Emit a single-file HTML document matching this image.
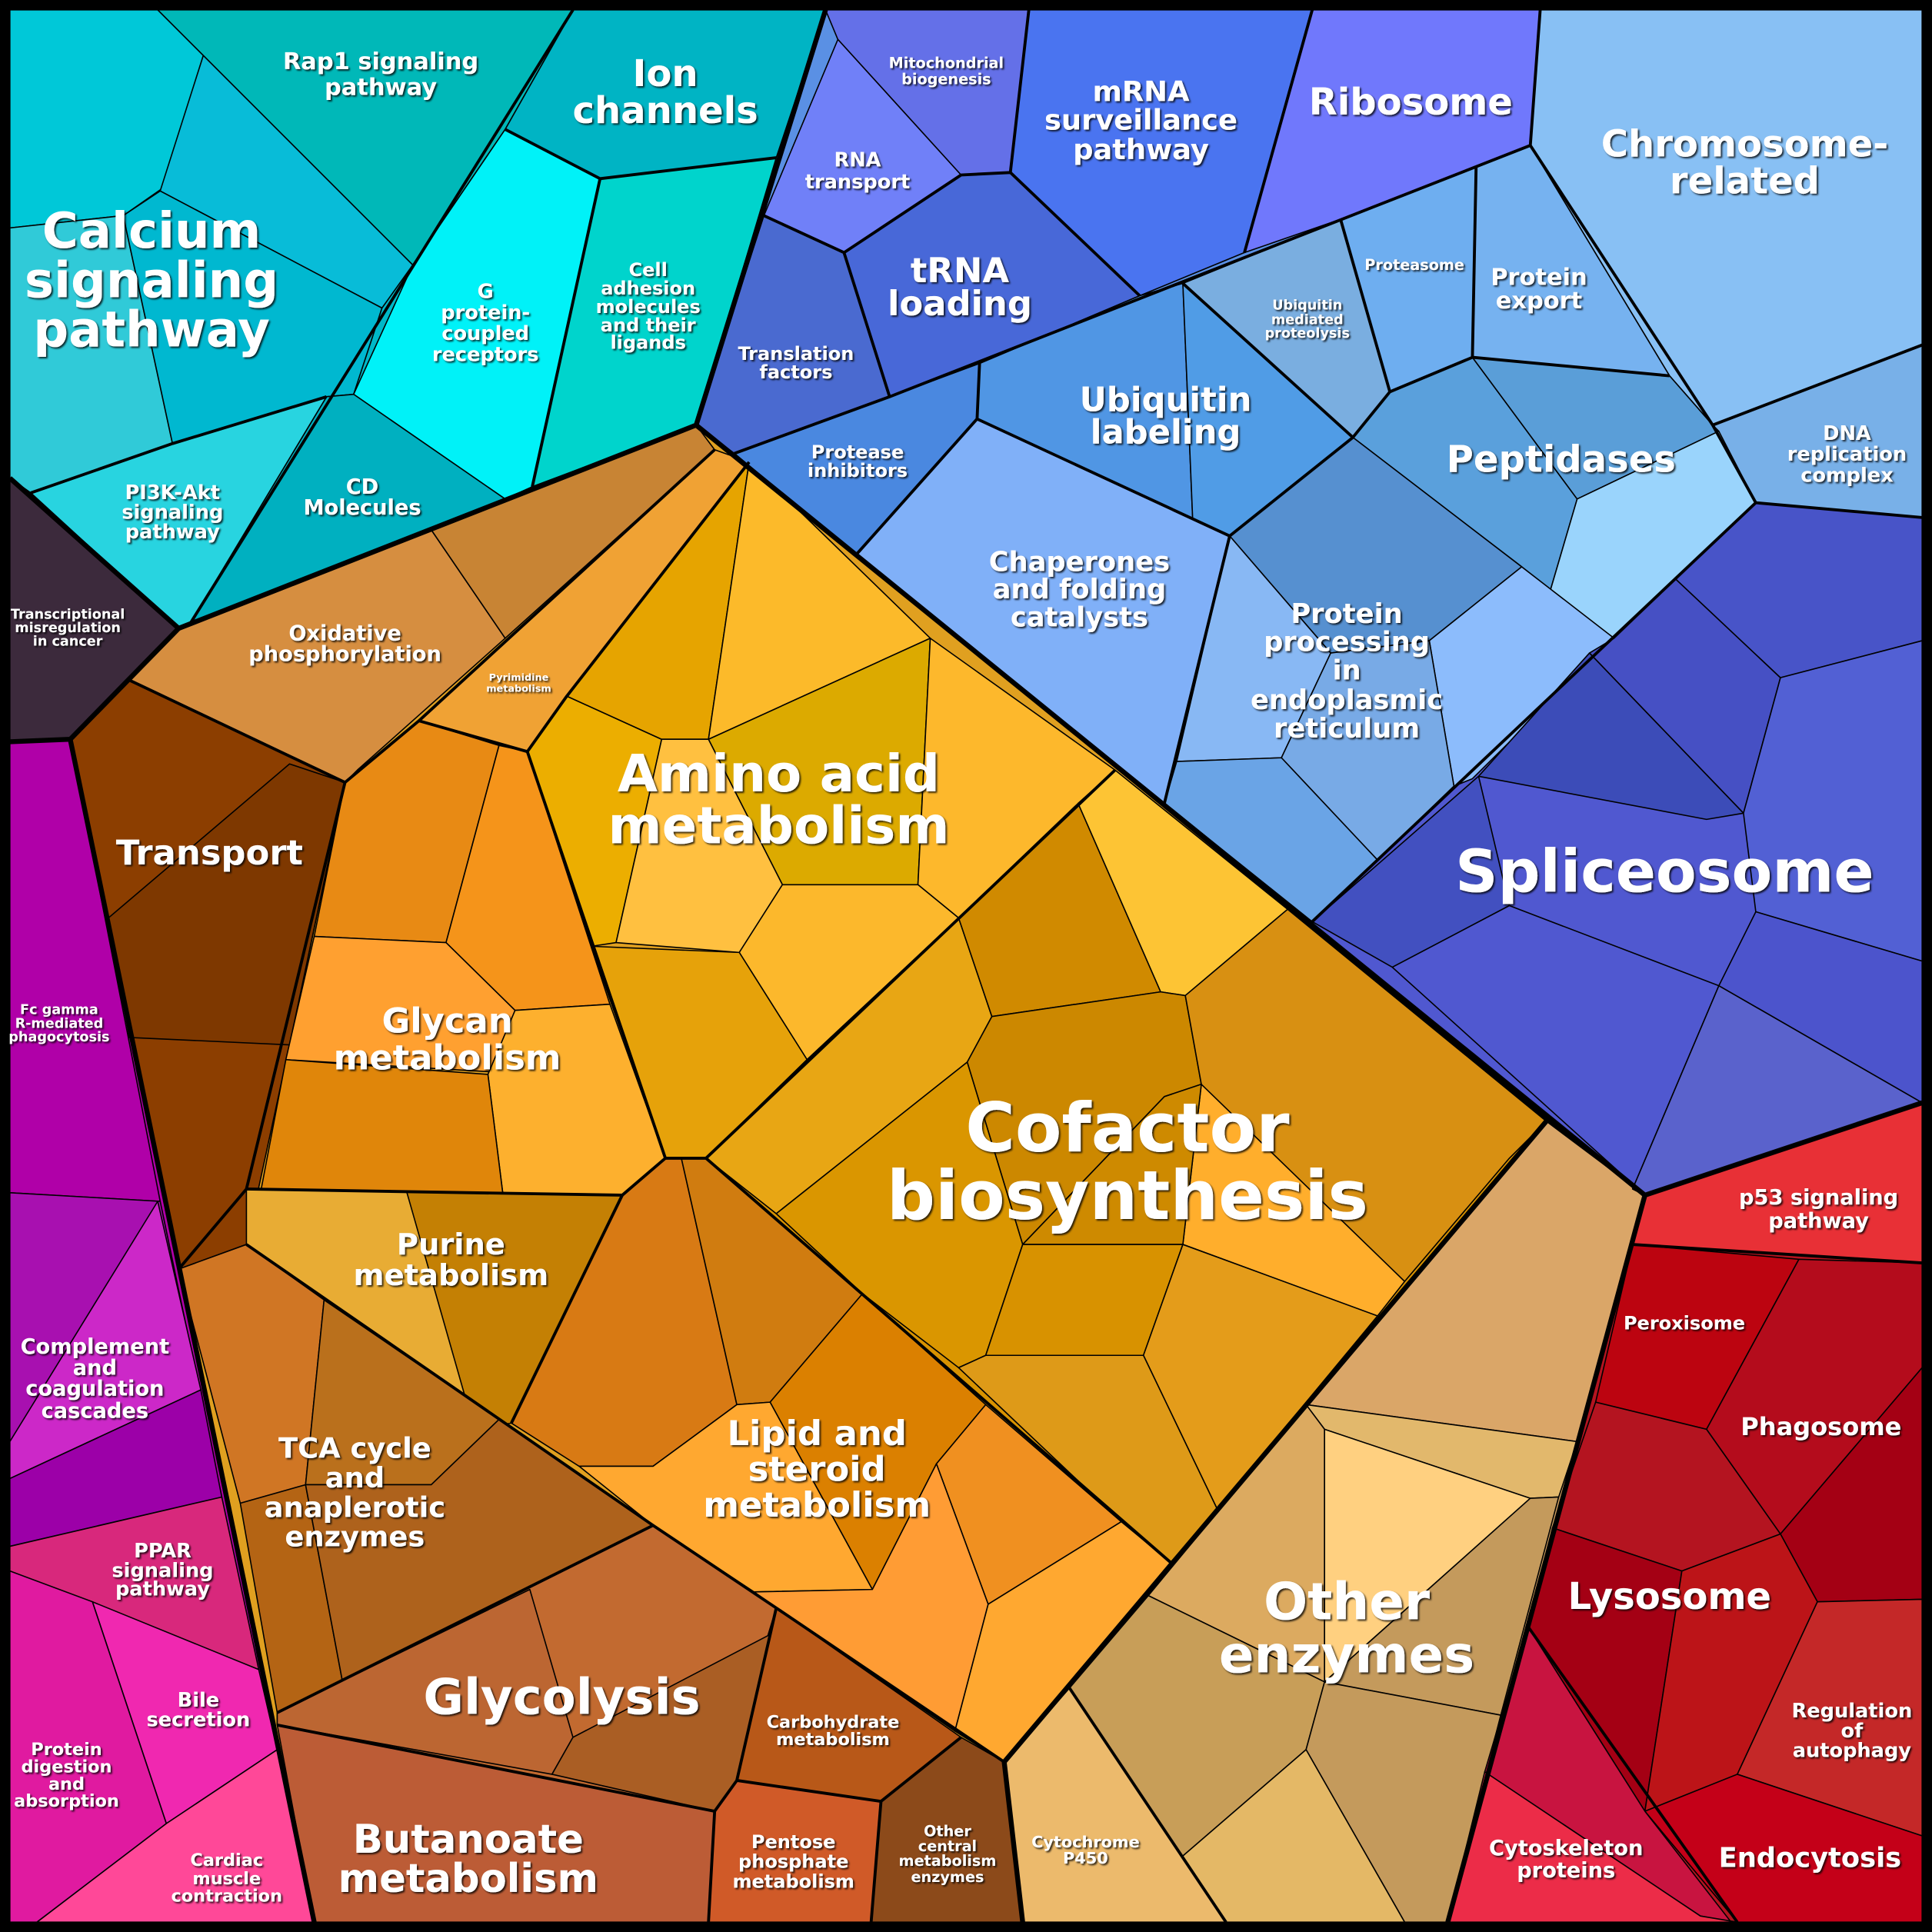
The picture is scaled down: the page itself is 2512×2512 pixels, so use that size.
<!DOCTYPE html>
<html><head><meta charset="utf-8"><style>
html,body{margin:0;padding:0;background:#000;}
svg{display:block;}
text{font-family:"DejaVu Sans","Liberation Sans",sans-serif;font-weight:bold;fill:#fff;text-anchor:middle;dominant-baseline:central;}
.c polygon{stroke:#000;stroke-width:1;stroke-linejoin:round;}
.base polygon{stroke:none;}
.b{fill:none;stroke:#000;stroke-width:4;stroke-linejoin:round;}
.m{fill:none;stroke:#000;stroke-width:2.4;stroke-linejoin:round;}
</style></head><body>
<svg width="2512" height="2512" viewBox="0 0 1568 1568" xmlns="http://www.w3.org/2000/svg">
<defs><filter id="sh" x="-5%" y="-5%" width="110%" height="110%"><feDropShadow dx="1.2" dy="1.2" stdDeviation="0.6" flood-color="#000" flood-opacity="0.8"/></filter></defs>
<rect width="1568" height="1568" fill="#000"/>
<g class="base">
<polygon fill="#00b8c8" points="8,8 670,8 565,345 145,510 8,388"/>
<polygon fill="#5a90e4" points="670,8 1560,8 1560,895 1335,970 565,345"/>
<polygon fill="#5058d0" points="1310,518 1425,408 1560,420 1560,895 1335,970 1065,748"/>
<polygon fill="#e0a020" points="145,510 565,345 1255,910 815,1430 830,1560 255,1560 57,600 105,552"/>
<polygon fill="#8c3e00" points="57,600 105,552 280,635 200,965 145,1030"/>
<polygon fill="#d89200" points="573,940 905,625 1255,910 950,1268"/>
<polygon fill="#b000a8" points="8,602 57,600 255,1560 8,1560"/>
<polygon fill="#b41420" points="1335,970 1560,895 1560,1560 1175,1560"/>
<polygon fill="#d0a060" points="815,1430 1255,910 1335,970 1175,1560 830,1560"/>
</g>
<g class="c">
<polygon fill="#00c8d8" points="8,8 128,8 165,45 133,152 100,175 8,185"/>
<polygon fill="#30cad8" points="8,185 100,175 140,360 25,400 8,388"/>
<polygon fill="#08bcd8" points="165,45 335,215 310,250 130,155"/>
<polygon fill="#00b8d0" points="130,155 310,250 287,320 265,322 140,360 100,175"/>
<polygon fill="#00b8b8" points="128,8 465,8 410,105 335,215 165,45"/>
<polygon fill="#00b4c4" points="465,8 670,8 630,128 487,145 410,105"/>
<polygon fill="#00f2f8" points="410,105 487,145 432,395 410,405 287,320 335,215"/>
<polygon fill="#00d4cc" points="487,145 630,128 565,345 432,395"/>
<polygon fill="#00b0c0" points="287,320 410,405 155,505 265,322"/>
<polygon fill="#28d4e0" points="25,400 140,360 265,322 155,505 145,510"/>
<polygon fill="#3c2a3c" points="8,388 145,510 105,552 57,600 8,602"/>
<polygon fill="#b000a8" points="8,602 57,600 130,975 8,968"/>
<polygon fill="#a810b0" points="8,968 130,975 180,1215 8,1255"/>
<polygon fill="#cc28c8" points="128,975 163,1128 8,1200 8,1170"/>
<polygon fill="#9c00a8" points="163,1128 180,1215 8,1255 8,1200"/>
<polygon fill="#d8287c" points="8,1255 180,1215 210,1355 8,1275"/>
<polygon fill="#f028b0" points="75,1300 210,1355 225,1420 135,1480"/>
<polygon fill="#e01aa0" points="8,1275 75,1300 135,1480 30,1560 8,1560"/>
<polygon fill="#ff4898" points="135,1480 225,1420 255,1560 30,1560"/>
<polygon fill="#d68e40" points="105,552 145,510 350,430 410,518 290,625 280,635"/>
<polygon fill="#c88434" points="350,430 565,345 580,365 410,518"/>
<polygon fill="#f0a234" points="340,585 580,365 608,375 460,565 428,610"/>
<polygon fill="#8c3e00" points="57,600 105,552 280,635 235,848 200,1010 145,1030"/>
<polygon fill="#7e3800" points="88,745 235,620 280,635 235,848 105,842"/>
<polygon fill="#e88a14" points="280,635 340,585 405,605 362,765 255,760"/>
<polygon fill="#f5941a" points="405,605 428,610 495,815 418,820 362,765"/>
<polygon fill="#ffa030" points="255,760 362,765 418,820 400,870 232,860"/>
<polygon fill="#fdb02e" points="418,820 495,815 540,940 505,970 408,968 396,872"/>
<polygon fill="#e0860a" points="232,860 396,872 408,968 212,965"/>
<polygon fill="#ecae00" points="460,565 537,600 500,765 480,768 428,610"/>
<polygon fill="#e6a400" points="460,565 608,375 575,600 537,600"/>
<polygon fill="#fcba2a" points="608,375 755,518 575,600"/>
<polygon fill="#dcaa00" points="575,600 755,518 745,718 635,718"/>
<polygon fill="#ffc040" points="537,600 575,600 635,718 600,773 500,765"/>
<polygon fill="#fdb82c" points="755,518 905,625 778,745 745,718"/>
<polygon fill="#fcb82c" points="635,718 745,718 778,745 655,860 600,773"/>
<polygon fill="#e6a20a" points="480,768 600,773 655,860 573,940 540,940"/>
<polygon fill="#e8a614" points="655,860 778,745 805,825 785,862 630,985 573,940"/>
<polygon fill="#d08a00" points="778,745 875,652 942,805 805,825"/>
<polygon fill="#fdc434" points="875,652 905,625 1045,738 962,808 942,805"/>
<polygon fill="#cc8800" points="805,825 942,805 962,808 975,880 945,890 830,1010 785,862"/>
<polygon fill="#d89012" points="962,808 1045,738 1255,910 1225,940 1140,1040 960,1010 975,880"/>
<polygon fill="#ffae2c" points="975,880 1140,1040 1118,1068 960,1010"/>
<polygon fill="#ce8a00" points="945,890 975,880 960,1010 830,1010"/>
<polygon fill="#da9600" points="630,985 785,862 830,1010 800,1100 778,1110 700,1050"/>
<polygon fill="#d89200" points="830,1010 960,1010 928,1100 800,1100"/>
<polygon fill="#e49c1a" points="960,1010 1118,1068 988,1225 928,1100"/>
<polygon fill="#de9a18" points="778,1110 800,1100 928,1100 988,1225 950,1268 910,1235"/>
<polygon fill="#d87a14" points="505,970 540,940 553,940 598,1140 530,1190 470,1190 415,1155"/>
<polygon fill="#d07c10" points="553,940 573,940 700,1050 625,1138 598,1140"/>
<polygon fill="#db8000" points="700,1050 800,1140 760,1188 708,1290 625,1138"/>
<polygon fill="#ffa830" points="598,1140 625,1138 708,1290 612,1292 530,1238 470,1190 530,1190"/>
<polygon fill="#f09020" points="760,1188 800,1140 910,1235 802,1302"/>
<polygon fill="#ff9c34" points="612,1292 708,1290 760,1188 802,1302 775,1405 630,1305"/>
<polygon fill="#ffa830" points="802,1302 910,1235 950,1268 815,1430 775,1405"/>
<polygon fill="#e8ac34" points="200,965 330,967 380,1130 385,1160 200,1010"/>
<polygon fill="#c48004" points="330,967 505,970 415,1155 385,1160"/>
<polygon fill="#d07624" points="145,1030 200,1010 263,1055 248,1205 195,1220"/>
<polygon fill="#ba701c" points="263,1055 405,1152 350,1205 248,1205"/>
<polygon fill="#b46414" points="195,1220 248,1205 278,1365 225,1390"/>
<polygon fill="#ae621c" points="248,1205 350,1205 405,1152 530,1238 278,1365"/>
<polygon fill="#c26a30" points="225,1390 530,1238 630,1305 580,1470 225,1400"/>
<polygon fill="#bc6632" points="225,1390 430,1290 465,1410 448,1440 225,1400"/>
<polygon fill="#aa5e24" points="465,1410 628,1325 598,1445 580,1470 448,1440"/>
<polygon fill="#bc5c36" points="225,1400 580,1470 575,1560 255,1560"/>
<polygon fill="#b85818" points="630,1305 780,1410 715,1462 598,1445"/>
<polygon fill="#d05a28" points="598,1445 715,1462 707,1560 575,1560 580,1470"/>
<polygon fill="#8c4a1a" points="715,1462 780,1410 815,1430 830,1560 707,1560"/>
<polygon fill="#daa668" points="1255,910 1335,970 1280,1170 1060,1140"/>
<polygon fill="#e2b86c" points="1060,1140 1280,1170 1265,1215 1242,1216 1075,1160"/>
<polygon fill="#dcaa60" points="1060,1140 1075,1160 1075,1365 932,1295"/>
<polygon fill="#ffd080" points="1075,1160 1242,1216 1075,1365"/>
<polygon fill="#c49a5c" points="1242,1216 1265,1215 1218,1392 1075,1365"/>
<polygon fill="#c89e58" points="932,1295 1075,1365 1060,1420 958,1508 868,1370"/>
<polygon fill="#c49a5c" points="1075,1365 1218,1392 1175,1560 1140,1560 1060,1420"/>
<polygon fill="#e4b866" points="1060,1420 1140,1560 995,1560 958,1508"/>
<polygon fill="#ecba6c" points="815,1430 868,1370 995,1560 830,1560"/>
<polygon fill="#e83036" points="1335,970 1560,895 1560,1025 1325,1010"/>
<polygon fill="#bc0410" points="1325,1010 1460,1022 1385,1160 1295,1138"/>
<polygon fill="#b40c1c" points="1460,1022 1560,1025 1560,1110 1445,1245 1385,1160"/>
<polygon fill="#a40014" points="1560,1110 1560,1298 1475,1300 1445,1245"/>
<polygon fill="#b41420" points="1295,1138 1385,1160 1445,1245 1365,1275 1260,1240"/>
<polygon fill="#a40014" points="1260,1240 1365,1275 1335,1470 1240,1320"/>
<polygon fill="#bc1418" points="1365,1275 1445,1245 1475,1300 1410,1440 1335,1470"/>
<polygon fill="#c42828" points="1475,1300 1560,1298 1560,1490 1410,1440"/>
<polygon fill="#c40018" points="1335,1470 1410,1440 1560,1490 1560,1560 1410,1560"/>
<polygon fill="#c81440" points="1240,1320 1335,1470 1405,1560 1380,1555 1205,1438"/>
<polygon fill="#ec2c48" points="1205,1438 1380,1555 1410,1560 1175,1560"/>
<polygon fill="#6470e8" points="670,8 835,8 820,140 780,142 680,32"/>
<polygon fill="#7080f8" points="680,32 780,142 685,205 620,175"/>
<polygon fill="#4a74f0" points="835,8 1065,8 1010,205 925,240 820,140"/>
<polygon fill="#7078fc" points="1065,8 1250,8 1242,118 1088,178 1010,205"/>
<polygon fill="#4868d8" points="780,142 820,140 925,240 795,295 722,322 685,205"/>
<polygon fill="#4a6ad0" points="620,175 685,205 722,322 596,368 565,345"/>
<polygon fill="#4a88e0" points="596,368 722,322 795,295 793,340 695,450"/>
<polygon fill="#88c0f4" points="1250,8 1560,8 1560,280 1390,345 1355,305 1242,118"/>
<polygon fill="#78b0e8" points="1390,345 1560,280 1560,420 1425,408"/>
<polygon fill="#6eaef0" points="1088,178 1198,135 1195,290 1128,318"/>
<polygon fill="#76b2f0" points="1198,135 1242,118 1355,305 1195,290"/>
<polygon fill="#7aaee0" points="960,230 1088,178 1128,318 1098,355"/>
<polygon fill="#5096e4" points="795,295 925,240 960,230 968,422 793,340"/>
<polygon fill="#509ce6" points="960,230 1098,355 998,435 968,422"/>
<polygon fill="#5aa0dc" points="1098,355 1128,318 1195,290 1280,405 1258,480 1235,460"/>
<polygon fill="#5a9ed8" points="1195,290 1355,305 1390,345 1395,350 1280,405"/>
<polygon fill="#9ad4fc" points="1280,405 1395,350 1425,408 1310,518 1258,480"/>
<polygon fill="#5690d0" points="998,435 1098,355 1235,460 1160,520 1080,530"/>
<polygon fill="#80b0f8" points="695,450 793,340 998,435 945,652"/>
<polygon fill="#88b8f4" points="998,435 1080,530 1040,615 955,618"/>
<polygon fill="#8cbcfc" points="1160,520 1235,460 1310,518 1195,632 1180,638"/>
<polygon fill="#78aae6" points="1080,530 1160,520 1180,638 1118,698 1040,615"/>
<polygon fill="#6aa4e6" points="955,618 1040,615 1118,698 1065,748 945,652"/>
<polygon fill="#4650c4" points="1310,518 1360,470 1445,550 1415,660 1290,530"/>
<polygon fill="#4854c8" points="1360,470 1425,408 1560,420 1560,520 1445,550"/>
<polygon fill="#3c4cb8" points="1290,530 1415,660 1385,665 1200,630"/>
<polygon fill="#5260d4" points="1445,550 1560,520 1560,780 1425,740 1415,660"/>
<polygon fill="#4250c0" points="1200,630 1225,735 1130,785 1065,748"/>
<polygon fill="#5058d0" points="1130,785 1225,735 1395,800 1325,965 1335,970"/>
<polygon fill="#4c54cc" points="1425,740 1560,780 1560,895 1395,800"/>
<polygon fill="#5a62cc" points="1395,800 1560,895 1335,970 1325,965"/>
</g>
<polyline class="b" points="670,8 565,345 145,510 8,388"/>
<polyline class="b" points="145,510 57,600 8,602"/>
<polyline class="b" points="57,600 255,1560"/>
<polyline class="b" points="565,345 1335,970 1560,895"/>
<polyline class="b" points="1255,910 815,1430 830,1560"/>
<polyline class="b" points="1335,970 1175,1560"/>
<g class="m">
<polyline points="410,105 487,145 630,128"/>
<polyline points="465,8 155,505"/>
<polyline points="487,145 432,395"/>
<polyline points="140,360 25,400"/><polyline points="140,360 265,322"/>
<polyline points="620,175 685,205 722,322 596,368"/>
<polyline points="685,205 780,142 820,140 925,240"/>
<polyline points="835,8 820,140"/><polyline points="1065,8 1010,205"/>
<polyline points="1250,8 1242,118 1390,345 1425,408 1560,420"/>
<polyline points="1390,345 1560,280"/>
<polyline points="722,322 1242,118"/>
<polyline points="695,450 793,340 998,435 945,652"/><polyline points="793,340 795,295"/>
<polyline points="998,435 1098,355 1128,318 1195,290 1355,305"/>
<polyline points="1098,355 960,230"/><polyline points="1128,318 1088,178"/><polyline points="1195,290 1198,135"/>
<polyline points="1065,748 1425,408"/>
<polyline points="105,552 280,635 340,585 428,610 460,565 608,375"/>
<polyline points="280,635 200,965 145,1030"/>
<polyline points="340,585 580,365"/>
<polyline points="428,610 540,940 573,940 905,625"/>
<polyline points="200,965 505,970 540,940"/>
<polyline points="505,970 415,1155"/>
<polyline points="200,1010 530,1238 630,1305 815,1430"/>
<polyline points="573,940 950,1268"/>
<polyline points="225,1390 530,1238"/><polyline points="225,1400 580,1470 575,1560"/>
<polyline points="580,1470 598,1445 630,1305"/><polyline points="598,1445 715,1462 780,1410"/><polyline points="715,1462 707,1560"/>
<polyline points="868,1370 995,1560"/>
<polyline points="1325,1010 1560,1025"/>
<polyline points="1240,1320 1410,1560"/>
</g>
<rect x="4" y="4" width="1560" height="1560" fill="none" stroke="#000" stroke-width="8"/>
<g filter="url(#sh)">
<text font-size="40"><tspan x="123" y="188">Calcium</tspan><tspan x="123" y="228">signaling</tspan><tspan x="123" y="268">pathway</tspan></text>
<text font-size="19"><tspan x="309" y="50">Rap1 signaling</tspan><tspan x="309" y="71">pathway</tspan></text>
<text font-size="30"><tspan x="540" y="60">Ion</tspan><tspan x="540" y="90">channels</tspan></text>
<text font-size="16"><tspan x="394" y="237">G</tspan><tspan x="394" y="254">protein-</tspan><tspan x="394" y="271">coupled</tspan><tspan x="394" y="288">receptors</tspan></text>
<text font-size="15"><tspan x="526" y="219">Cell</tspan><tspan x="526" y="234">adhesion</tspan><tspan x="526" y="249">molecules</tspan><tspan x="526" y="264">and their</tspan><tspan x="526" y="278">ligands</tspan></text>
<text font-size="17"><tspan x="294" y="395">CD</tspan><tspan x="294" y="412">Molecules</tspan></text>
<text font-size="16"><tspan x="140" y="400">PI3K-Akt</tspan><tspan x="140" y="416">signaling</tspan><tspan x="140" y="432">pathway</tspan></text>
<text font-size="11"><tspan x="55" y="499">Transcriptional</tspan><tspan x="55" y="510">misregulation</tspan><tspan x="55" y="521">in cancer</tspan></text>
<text font-size="12"><tspan x="768" y="51">Mitochondrial</tspan><tspan x="768" y="64">biogenesis</tspan></text>
<text font-size="16"><tspan x="696" y="130">RNA</tspan><tspan x="696" y="148">transport</tspan></text>
<text font-size="23"><tspan x="926" y="74">mRNA</tspan><tspan x="926" y="97">surveillance</tspan><tspan x="926" y="121">pathway</tspan></text>
<text font-size="30" x="1145" y="83">Ribosome</text>
<text font-size="28"><tspan x="779" y="219">tRNA</tspan><tspan x="779" y="246">loading</tspan></text>
<text font-size="15"><tspan x="646" y="287">Translation</tspan><tspan x="646" y="302">factors</tspan></text>
<text font-size="15"><tspan x="696" y="367">Protease</tspan><tspan x="696" y="382">inhibitors</tspan></text>
<text font-size="27"><tspan x="946" y="325">Ubiquitin</tspan><tspan x="946" y="351">labeling</tspan></text>
<text font-size="11"><tspan x="1061" y="248">Ubiquitin</tspan><tspan x="1061" y="260">mediated</tspan><tspan x="1061" y="271">proteolysis</tspan></text>
<text font-size="12" x="1148" y="215">Proteasome</text>
<text font-size="19"><tspan x="1249" y="225">Protein</tspan><tspan x="1249" y="244">export</tspan></text>
<text font-size="30"><tspan x="1416" y="117">Chromosome-</tspan><tspan x="1416" y="147">related</tspan></text>
<text font-size="16"><tspan x="1499" y="352">DNA</tspan><tspan x="1499" y="369">replication</tspan><tspan x="1499" y="386">complex</tspan></text>
<text font-size="30" x="1267" y="373">Peptidases</text>
<text font-size="22"><tspan x="876" y="456">Chaperones</tspan><tspan x="876" y="478">and folding</tspan><tspan x="876" y="501">catalysts</tspan></text>
<text font-size="22"><tspan x="1093" y="498">Protein</tspan><tspan x="1093" y="521">processing</tspan><tspan x="1093" y="544">in</tspan><tspan x="1093" y="568">endoplasmic</tspan><tspan x="1093" y="591">reticulum</tspan></text>
<text font-size="48" x="1351" y="708">Spliceosome</text>
<text font-size="17"><tspan x="280" y="514">Oxidative</tspan><tspan x="280" y="531">phosphorylation</tspan></text>
<text font-size="8"><tspan x="421" y="550">Pyrimidine</tspan><tspan x="421" y="559">metabolism</tspan></text>
<text font-size="28" x="170" y="692">Transport</text>
<text font-size="42"><tspan x="632" y="628">Amino acid</tspan><tspan x="632" y="670">metabolism</tspan></text>
<text font-size="28"><tspan x="363" y="828">Glycan</tspan><tspan x="363" y="858">metabolism</tspan></text>
<text font-size="55"><tspan x="915" y="915">Cofactor</tspan><tspan x="915" y="970">biosynthesis</tspan></text>
<text font-size="24"><tspan x="366" y="1010">Purine</tspan><tspan x="366" y="1035">metabolism</tspan></text>
<text font-size="23"><tspan x="288" y="1175">TCA cycle</tspan><tspan x="288" y="1199">and</tspan><tspan x="288" y="1223">anaplerotic</tspan><tspan x="288" y="1247">enzymes</tspan></text>
<text font-size="28"><tspan x="663" y="1163">Lipid and</tspan><tspan x="663" y="1192">steroid</tspan><tspan x="663" y="1221">metabolism</tspan></text>
<text font-size="40" x="456" y="1378">Glycolysis</text>
<text font-size="32"><tspan x="380" y="1493">Butanoate</tspan><tspan x="380" y="1525">metabolism</tspan></text>
<text font-size="14"><tspan x="676" y="1398">Carbohydrate</tspan><tspan x="676" y="1412">metabolism</tspan></text>
<text font-size="15"><tspan x="644" y="1495">Pentose</tspan><tspan x="644" y="1511">phosphate</tspan><tspan x="644" y="1527">metabolism</tspan></text>
<text font-size="12"><tspan x="769" y="1486">Other</tspan><tspan x="769" y="1498">central</tspan><tspan x="769" y="1510">metabolism</tspan><tspan x="769" y="1523">enzymes</tspan></text>
<text font-size="13"><tspan x="881" y="1495">Cytochrome</tspan><tspan x="881" y="1508">P450</tspan></text>
<text font-size="42"><tspan x="1093" y="1300">Other</tspan><tspan x="1093" y="1343">enzymes</tspan></text>
<text font-size="11"><tspan x="48" y="820">Fc gamma</tspan><tspan x="48" y="831">R-mediated</tspan><tspan x="48" y="842">phagocytosis</tspan></text>
<text font-size="17"><tspan x="77" y="1093">Complement</tspan><tspan x="77" y="1110">and</tspan><tspan x="77" y="1127">coagulation</tspan><tspan x="77" y="1145">cascades</tspan></text>
<text font-size="16"><tspan x="132" y="1259">PPAR</tspan><tspan x="132" y="1275">signaling</tspan><tspan x="132" y="1290">pathway</tspan></text>
<text font-size="16"><tspan x="161" y="1380">Bile</tspan><tspan x="161" y="1396">secretion</tspan></text>
<text font-size="14"><tspan x="54" y="1420">Protein</tspan><tspan x="54" y="1434">digestion</tspan><tspan x="54" y="1448">and</tspan><tspan x="54" y="1462">absorption</tspan></text>
<text font-size="14"><tspan x="184" y="1510">Cardiac</tspan><tspan x="184" y="1525">muscle</tspan><tspan x="184" y="1539">contraction</tspan></text>
<text font-size="17"><tspan x="1476" y="972">p53 signaling</tspan><tspan x="1476" y="991">pathway</tspan></text>
<text font-size="15" x="1367" y="1074">Peroxisome</text>
<text font-size="20" x="1478" y="1158">Phagosome</text>
<text font-size="30" x="1355" y="1296">Lysosome</text>
<text font-size="16"><tspan x="1503" y="1389">Regulation</tspan><tspan x="1503" y="1405">of</tspan><tspan x="1503" y="1421">autophagy</tspan></text>
<text font-size="22" x="1469" y="1508">Endocytosis</text>
<text font-size="17"><tspan x="1271" y="1500">Cytoskeleton</tspan><tspan x="1271" y="1518">proteins</tspan></text>
</g>
</svg>
</body></html>
